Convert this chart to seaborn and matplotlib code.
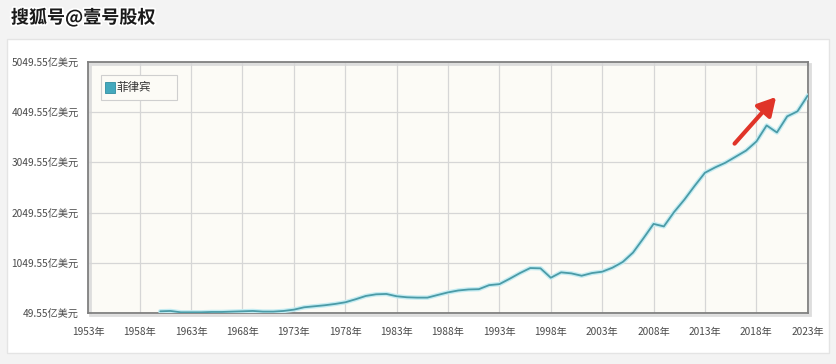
import numpy as np
import pandas as pd
import matplotlib
matplotlib.use("Agg")
import matplotlib.pyplot as plt
import matplotlib.patheffects as pe
from matplotlib.patches import Rectangle
import seaborn as sns

# ─── Dados (亿美元) ──────────────────────────────────────
years = list(range(1960, 2024))
gdp = [89, 96, 69, 69, 69, 76, 76, 83, 89, 96,
       83, 83, 96, 122, 169, 189, 209, 235, 268, 328,
       394, 427, 434, 388, 368, 361, 361, 414, 465, 503,
       523, 529, 609, 629, 736, 849, 949, 943, 756, 863,
       843, 796, 849, 876, 956, 1069, 1256, 1536, 1826, 1776,
       2063, 2309, 2583, 2843, 2950, 3043, 3163, 3283, 3463, 3783,
       3643, 3963, 4063, 4377]
series_name = "菲律宾"
y_ticks = [49.55, 1049.55, 2049.55, 3049.55, 4049.55, 5049.55]
x_ticks = list(range(1953, 2024, 5))
title = "搜狐号@壹号股权"

df = pd.DataFrame({"year": years, "gdp": gdp})

sns.set_theme(style="white")
plt.rcParams['font.family'] = ['Noto Sans CJK SC', 'DejaVu Sans']

fig = plt.figure(figsize=(8.36, 3.64), dpi=100)
fig.patch.set_facecolor("#f3f3f3")

# ── cabeçalho e cartão ──
fig.patches.append(Rectangle((0.008, 0.030), 0.984, 0.862, transform=fig.transFigure,
                             facecolor="white", edgecolor="#e4e4e4", lw=1, zorder=-5))
fig.text(0.013, 0.950, title, fontsize=13, fontweight="bold", color="#1a1a1a",
         va="center", ha="left",
         path_effects=[pe.withStroke(linewidth=2.5, foreground="white")])

ax = fig.add_axes([0.1056, 0.1393, 0.8606, 0.6912])
ax.set_facecolor("#fcfbf6")

# sombra da moldura
ax.add_patch(Rectangle((0.003, -0.008), 1.0, 1.0, transform=ax.transAxes,
                       facecolor="none", edgecolor="#dddddd", lw=2, zorder=0,
                       clip_on=False))

sns.lineplot(data=df, x="year", y="gdp", ax=ax, color="#c4ecf2", lw=3.2, zorder=3)
sns.lineplot(data=df, x="year", y="gdp", ax=ax, color="#4b9ba7", lw=1.3, zorder=4)

ax.set_xlim(1953, 2023)
ax.set_ylim(49.55, 5049.55)
ax.set_xticks(x_ticks)
ax.set_xticklabels([f"{y}年" for y in x_ticks])
ax.set_yticks(y_ticks)
ax.set_yticklabels([f"{v:.2f}亿美元" for v in y_ticks])
ax.tick_params(axis="both", labelsize=7.3, colors="#4a4a4a", length=4, width=0.8,
               direction="out", pad=3)
ax.tick_params(axis="x", pad=6)
ax.grid(True, color="#d6d6d6", lw=0.9)
ax.set_xlabel("")
ax.set_ylabel("")
for s in ax.spines.values():
    s.set_color("#808080")
    s.set_linewidth(1.3)

# legenda
leg_box = Rectangle((0.017, 0.847), 0.106, 0.1, transform=ax.transAxes,
                    facecolor="#fcfbf6", edgecolor="#cfcfcf", lw=0.8, zorder=5)
ax.add_patch(leg_box)
ax.add_patch(Rectangle((0.023, 0.877), 0.014, 0.042, transform=ax.transAxes,
                       facecolor="#44a9bd", edgecolor="#2f8da0", lw=0.6, zorder=6))
ax.text(0.039, 0.898, series_name, transform=ax.transAxes, fontsize=8.3,
        color="#333", va="center", ha="left", zorder=6)

# seta vermelha
ax.annotate("", xy=(2020.1, 4390), xytext=(2015.7, 3380),
            arrowprops=dict(arrowstyle="-|>,head_length=0.9,head_width=0.5",
                            color="#e03428", lw=3), zorder=7)

fig.savefig("out.png", dpi=100)
